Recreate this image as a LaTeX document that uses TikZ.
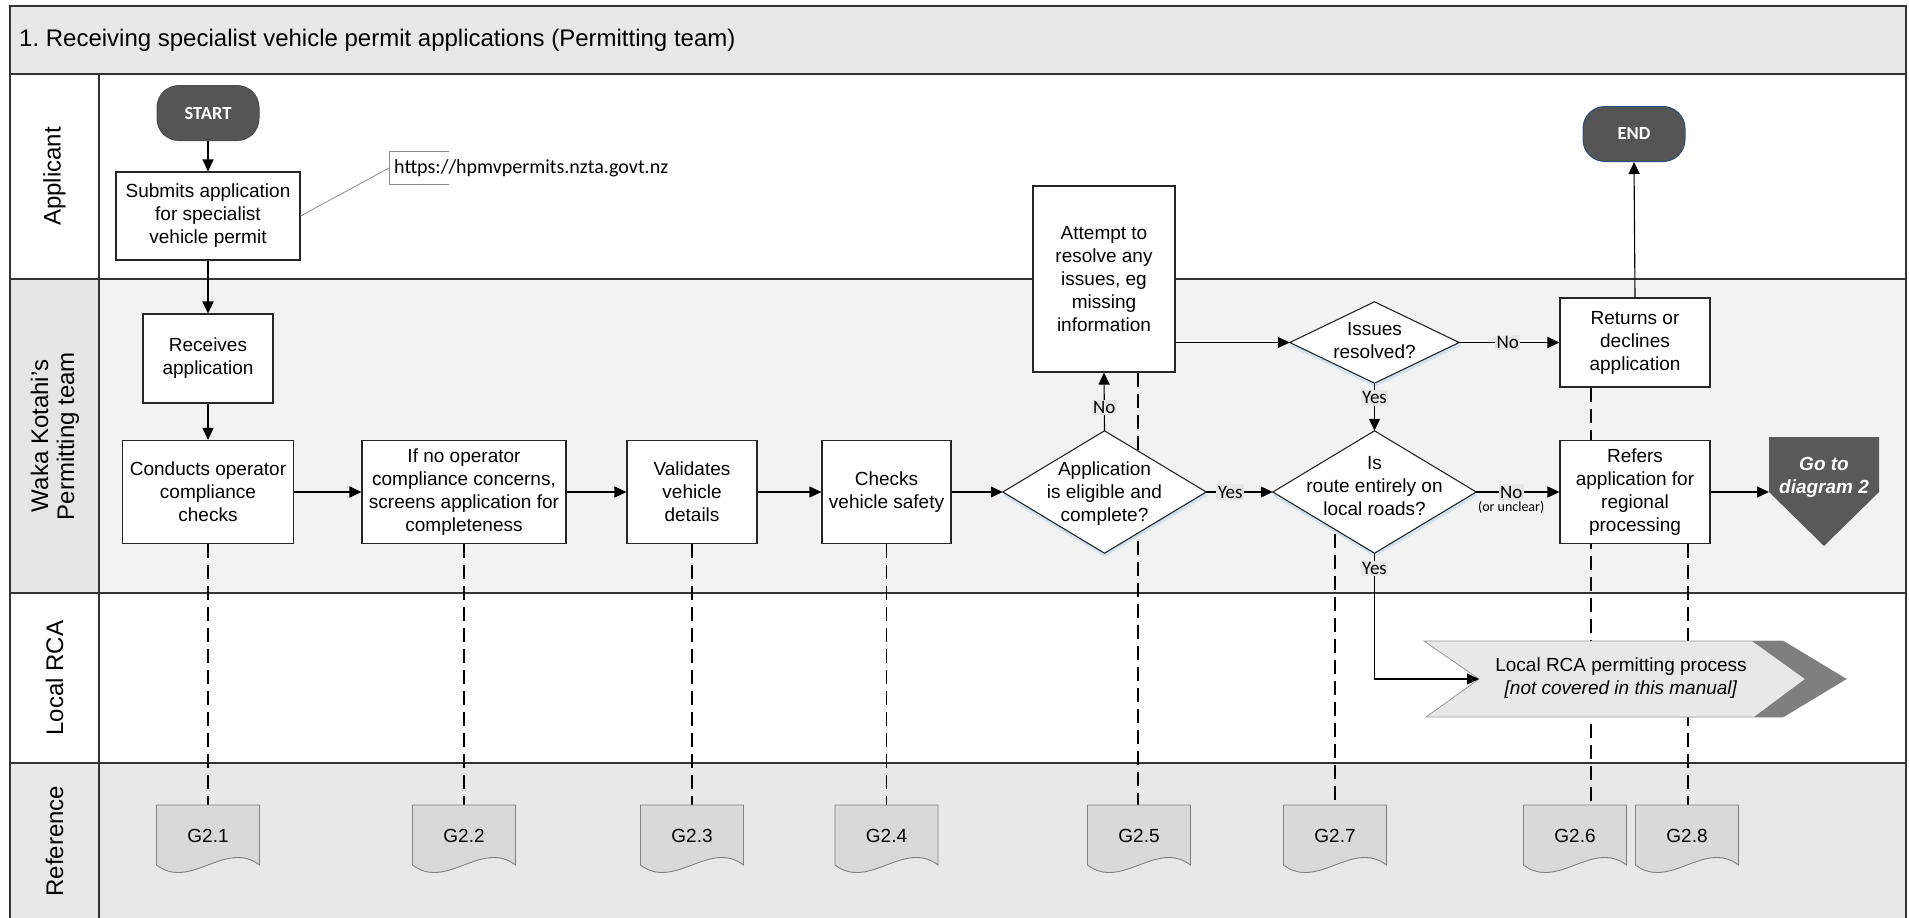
\documentclass[tikz,border=0pt]{standalone}
\usepackage{fontspec}
\setmainfont{Liberation Sans}
\newfontfamily\calfont{Carlito}
\usetikzlibrary{arrows.meta,calc}
\pgfdeclarelayer{back}
\pgfdeclarelayer{mid}
\pgfsetlayers{back,mid,main}
\definecolor{titlegray}{HTML}{E8E8E8}
\definecolor{lanegray}{HTML}{F2F2F2}
\definecolor{cellgray}{HTML}{E6E6E6}
\definecolor{darkfill}{HTML}{555555}
\definecolor{gofill}{HTML}{595959}
\definecolor{docfill}{HTML}{D9D9D9}
\definecolor{endblue}{HTML}{2F4F7F}
\definecolor{chevdark}{HTML}{7F7F7F}
\definecolor{shadowblue}{HTML}{D3E0EF}
\definecolor{lblfill}{HTML}{E6E6E6}
\frenchspacing
\newcommand\bx{\fontsize{19}{23}\selectfont}
\newcommand\lanefont{\fontsize{24}{26}\selectfont}
\newcommand\docsh[3]{%
  \draw[docd] (#2-51.5,805) -- (#2-51.5,865) .. controls (#2-17.5,891) and (#2+17.5,839) .. (#2+51.5,865) -- (#2+51.5,805) -- cycle;
  \node[font=\bx] (#1) at (#2,836) {#3};
  \coordinate (#1t) at (#2,805);}
\newcommand\diam[5]{%
  \node[minimum width=#4pt, minimum height=#5pt, inner sep=0pt] (#1) at (#2,#3) {};
  \fill[shadowblue] ($(#1.north)+(0.5,3.5)$) -- ($(#1.east)+(1.5,3.5)$) -- ($(#1.south)+(0.5,3.5)$) -- ($(#1.west)+(-0.5,3.5)$) -- cycle;
  \draw[dbox] (#1.north) -- (#1.east) -- (#1.south) -- (#1.west) -- cycle;}
\begin{document}
\begin{tikzpicture}[x=1pt,y=-1pt,
  box/.style={draw=black!85, line width=1.1pt, fill=white, inner sep=0pt, align=center, font=\bx},
  dbox/.style={draw=black!85, line width=1.1pt, fill=white},
  docd/.style={draw=black!50, line width=0.9pt, fill=docfill},
  arr/.style={-{Triangle[length=12pt,width=11pt]}, line width=1.1pt},
  dsh/.style={dash pattern=on 14pt off 7pt, line width=1.3pt},
  lane/.style={draw=black!80, line width=2pt},
  lblbg/.style={fill=lblfill, inner sep=1.5pt, font=\calfont\fontsize{19}{21}\selectfont},
  term/.style={fill=darkfill, rounded corners=22pt, minimum width=102pt, minimum height=55pt, text=white, font=\calfont\bfseries\fontsize{18.5}{20}\selectfont, line width=1pt},
  urlline/.style={draw=black!45, line width=0.8pt},
  lanelbl/.style={rotate=90, font=\lanefont, align=center}]
\useasboundingbox (0,0) rectangle (1909,918);

\begin{pgfonlayer}{back}
\fill[titlegray] (10,6) rectangle (1906,74);
\fill[white] (10,74) rectangle (1906,279);
\fill[cellgray] (10,279) rectangle (99,593);
\fill[lanegray] (99,279) rectangle (1906,593);
\fill[white] (10,593) rectangle (1906,763);
\fill[titlegray] (10,763) rectangle (1906,918);
\draw[lane] (10,918) -- (10,6) -- (1906,6) -- (1906,918);
\foreach \yy in {74,279,593,763} \draw[lane] (10,\yy) -- (1906,\yy);
\draw[lane] (99,74) -- (99,918);
\end{pgfonlayer}

% title and lane labels
\node[anchor=west, font=\fontsize{24}{28}\selectfont, inner sep=0pt] (title) at (19,40) {1. Receiving specialist vehicle permit applications (Permitting team)};
\node[lanelbl] (lA) at (54.5,176.5) {Applicant};
\node[lanelbl] (lW) at (55,436) {Waka Kotahi’s\\Permitting team};
\node[lanelbl] (lL) at (54.5,678) {Local RCA};
\node[lanelbl] (lR) at (54.5,841) {Reference};

% terminals
\node[term, draw=black!70] (start) at (208,113) {START};
\node[term, draw=endblue] (end) at (1634,134) {END};

% boxes
\node[box, minimum width=184pt, minimum height=88pt] (submit) at (208,216) {Submits application\\for specialist\\vehicle permit};
\node[box, minimum width=130pt, minimum height=89pt] (receives) at (208,358.5) {Receives\\application};
\node[box, minimum width=171pt, minimum height=103pt] (conducts) at (208,492) {Conducts operator\\compliance\\checks};
\node[box, minimum width=204pt, minimum height=103pt] (ifno) at (464,492) {If no operator\\compliance concerns,\\screens application for\\completeness};
\node[box, minimum width=130pt, minimum height=103pt] (validates) at (692,492) {Validates\\vehicle\\details};
\node[box, minimum width=129pt, minimum height=103pt] (checks) at (886.5,492) {Checks\\vehicle safety};
\node[box, minimum width=142pt, minimum height=186pt] (attempt) at (1104,279) {Attempt to\\resolve any\\issues, eg\\missing\\information};
\node[box, minimum width=150pt, minimum height=89pt] (returns) at (1635,342.5) {Returns or\\declines\\application};
\node[box, minimum width=150pt, minimum height=103pt] (refers) at (1635,492) {Refers\\application for\\regional\\processing};

% diamonds
\diam{d1}{1104.5}{492}{203}{122}
\node[font=\bx, align=center] (d1t) at (1104.5,494) {Application\\is eligible and\\complete?};
\diam{d2}{1374.5}{342.5}{169}{81}
\node[font=\bx, align=center] (d2t) at (1374.5,341) {Issues\\resolved?};
\diam{d3}{1374.5}{492}{203}{122}
\node[font=\bx, align=center] (d3t) at (1374.5,486) {Is\\route entirely on\\local roads?};

% go to diagram 2
\fill[gofill] (1769,437) -- (1879,437) -- (1879,492) -- (1824,546) -- (1769,492) -- cycle;
\node[font=\bx\bfseries\itshape, text=white, align=center] (goto) at (1824,477.5) {Go to\\diagram 2};
\coordinate (gotoin) at (1769,492);

% local RCA chevron
\coordinate (notch) at (1479,679);
\filldraw[fill=titlegray, draw=black!40, line width=0.8pt] (1424,641) -- (1783,641) -- (1846,679) -- (1783,717) -- (1426,717) -- (notch) -- cycle;
\fill[chevdark] (1752,641) -- (1783,641) -- (1846,679) -- (1783,717) -- (1754,717) -- (1805,679) -- cycle;
\node[font=\bx, align=center] (rca) at (1621,678.5) {Local RCA permitting process\\\textit{[not covered in this manual]}};

% reference documents
\docsh{g21}{208}{G2.1}
\docsh{g22}{464}{G2.2}
\docsh{g23}{692}{G2.3}
\docsh{g24}{886.5}{G2.4}
\docsh{g25}{1139}{G2.5}
\docsh{g27}{1335}{G2.7}
\docsh{g26}{1575}{G2.6}
\docsh{g28}{1687}{G2.8}

% url annotation
\draw[urlline] (449,151) -- (389,151) -- (389,184) -- (449,184);
\node[anchor=west, font=\calfont\fontsize{20}{22}\selectfont, inner sep=0pt] (url) at (394,168) {https://hpmvpermits.nzta.govt.nz};
\coordinate (urlb) at (389,168);
\draw[urlline] (submit.east) -- (urlb);

% connectors
\draw[arr] (start) -- (submit);
\draw[arr] (submit) -- (receives);
\draw[arr] (receives) -- (conducts);
\draw[arr] (conducts) -- (ifno);
\draw[arr] (ifno) -- (validates);
\draw[arr] (validates) -- (checks);
\draw[arr] (checks.east) -- (d1.west);
\draw[arr] (d1.north) -- node[lblbg, pos=0.4] (no1) {No} (attempt.south);
\draw[arr] (d1.east) -- node[lblbg, pos=0.36] (yes1) {Yes} (d3.west);
\draw[arr] (attempt.east |- d2.west) -- (d2.west);
\draw[arr] (d2.east) -- node[lblbg, pos=0.485] (no2) {No} (returns.west);
\draw[arr] (d2.south) -- node[lblbg, pos=0.31] (yes2) {Yes} (d3.north);
\draw[arr] (d3.east) -- node[lblbg, pos=0.42] (no3) {No} (refers.west);
\node[font=\calfont\fontsize{14}{16}\selectfont, inner sep=0pt] (unclear) at ($(no3)+(0,15.5)$) {(or unclear)};
\draw[arr] (returns.north) -- (end.south);
\draw[arr] (refers.east) -- (gotoin);
\draw[arr] (d3.south) |- node[lblbg, pos=0.06] (yes3) {Yes} (notch);

% dashed reference lines
\begin{pgfonlayer}{mid}
\draw[dsh] (conducts.south) -- (g21t);
\draw[dsh] (ifno.south) -- (g22t);
\draw[dsh] (validates.south) -- (g23t);
\draw[dsh] (checks.south) -- (g24t);
\coordinate (a5) at ($(attempt.south)+(34,0)$);
\draw[dsh] (a5) -- (a5 |- g25t);
\coordinate (a7) at ($(d3.center)+(-39.5,0)$);
\draw[dsh] (a7) -- (a7 |- g27t);
\coordinate (a6) at ($(returns.south)+(-44,0)$);
\draw[dsh] (a6) -- (a6 |- g26t);
\coordinate (a8) at ($(refers.south)+(53,0)$);
\draw[dsh] (a8) -- (a8 |- g28t);
\end{pgfonlayer}
\end{tikzpicture}
\end{document}
